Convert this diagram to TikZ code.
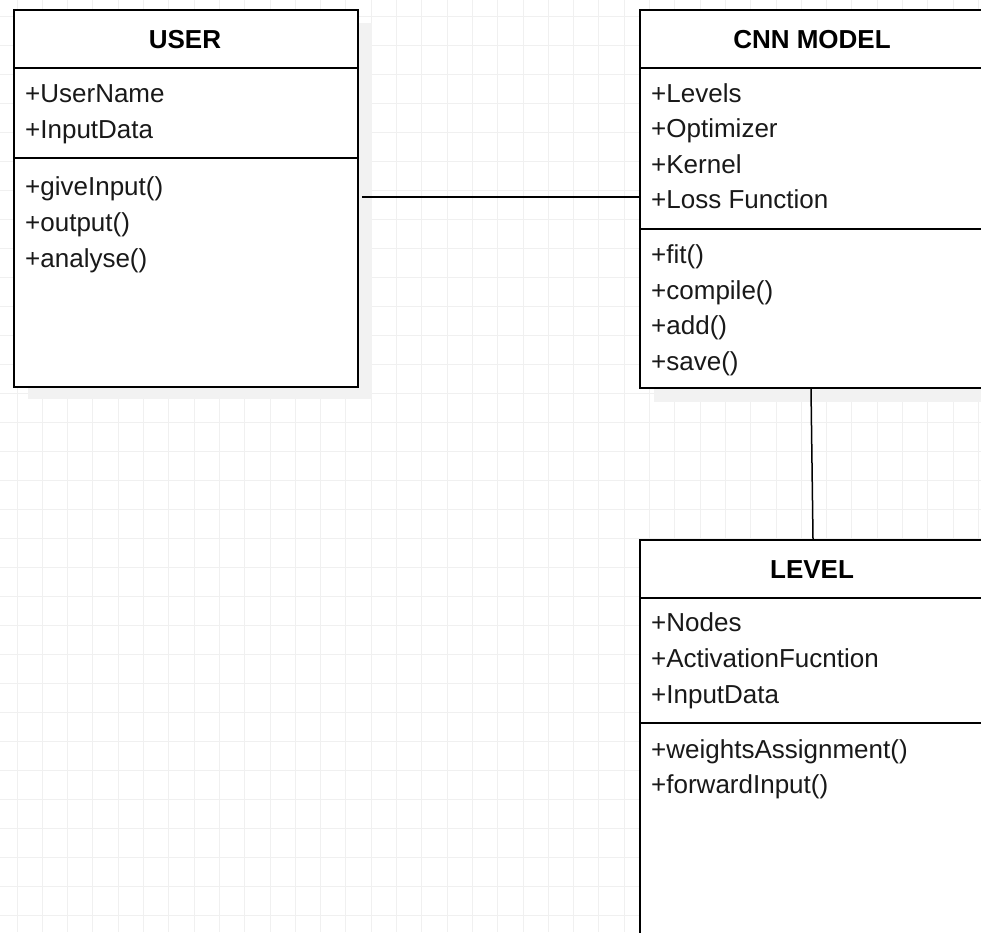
\documentclass[tikz,border=0pt]{standalone}
\usepackage{fontspec}
\setmainfont{Liberation Sans}
\begin{document}
\begin{tikzpicture}[x=1pt,y=-1pt,
  umlbox/.style={draw=black,line width=1.8pt,fill=white,rectangle,anchor=north west,inner sep=0pt},
  sep/.style={draw=black,line width=1.6pt},
  conn/.style={draw=black,line width=1.8pt},
  shadowbox/.style={fill=black!5,draw=none},
  title/.style={font=\fontsize{26}{30}\selectfont\bfseries,anchor=base,inner sep=0pt},
  item/.style={font=\fontsize{26}{30}\selectfont,anchor=base west,inner sep=0pt,text=black!90}]
\clip (0,0) rectangle (981,932);
\fill[white] (0,0) rectangle (981,932);
% grid
\foreach \i in {0,...,38} {\draw[black!6,line width=1pt] (17+25.3*\i,0) -- (17+25.3*\i,932);}
\foreach \j in {0,...,32} {\draw[black!6,line width=1pt] (0,16.5+29*\j) -- (981,16.5+29*\j);}
% shadows
\fill[shadowbox] (28,23) rectangle (372,399);
\fill[shadowbox] (654,23) rectangle (1000,402);
% boxes
\node[umlbox,minimum width=344pt,minimum height=377pt] (user) at (13,9) {};
\node[umlbox,minimum width=360pt,minimum height=378pt] (cnn) at (639,9) {};
\node[umlbox,minimum width=360pt,minimum height=420pt] (level) at (639,539) {};
% separators
\draw[sep] (user.west |- 0,68) -- (user.east |- 0,68);
\draw[sep,line width=1.1pt] (user.west |- 0,158) -- (user.east |- 0,158);
\draw[sep] (cnn.west |- 0,68) -- (cnn.east |- 0,68);
\draw[sep] (cnn.west |- 0,229) -- (cnn.east |- 0,229);
\draw[sep] (level.west |- 0,598) -- (level.east |- 0,598);
\draw[sep] (level.west |- 0,723) -- (level.east |- 0,723);
% titles
\node[title] (usert) at (185,48) {USER};
\node[title] (cnnt) at (812,48) {CNN MODEL};
\node[title] (levelt) at (812,578) {LEVEL};
% USER items
\node[item] (u1) at (25,102) {+UserName};
\node[item] (u2) at (25,138) {+InputData};
\node[item] (u3) at (25,195) {+giveInput()};
\node[item] (u4) at (25,231) {+output()};
\node[item] (u5) at (25,267) {+analyse()};
% CNN items
\node[item] (c1) at (651,102) {+Levels};
\node[item] (c2) at (651,137) {+Optimizer};
\node[item] (c3) at (651,173) {+Kernel};
\node[item] (c4) at (651,208) {+Loss Function};
\node[item] (c5) at (651,263) {+fit()};
\node[item] (c6) at (651,299) {+compile()};
\node[item] (c7) at (651,334) {+add()};
\node[item] (c8) at (651,370) {+save()};
% LEVEL items
\node[item] (l1) at (651,631) {+Nodes};
\node[item] (l2) at (651,667) {+ActivationFucntion};
\node[item] (l3) at (651,703) {+InputData};
\node[item] (l4) at (651,758) {+weightsAssignment()};
\node[item] (l5) at (651,793) {+forwardInput()};
% connectors
\draw[conn] ([xshift=3pt]user.east |- 0,197) -- (cnn.west |- 0,197);
\draw[conn,line width=1.5pt] (cnn.south -| 811,0) -- (level.north -| 813,0);
\end{tikzpicture}
\end{document}
